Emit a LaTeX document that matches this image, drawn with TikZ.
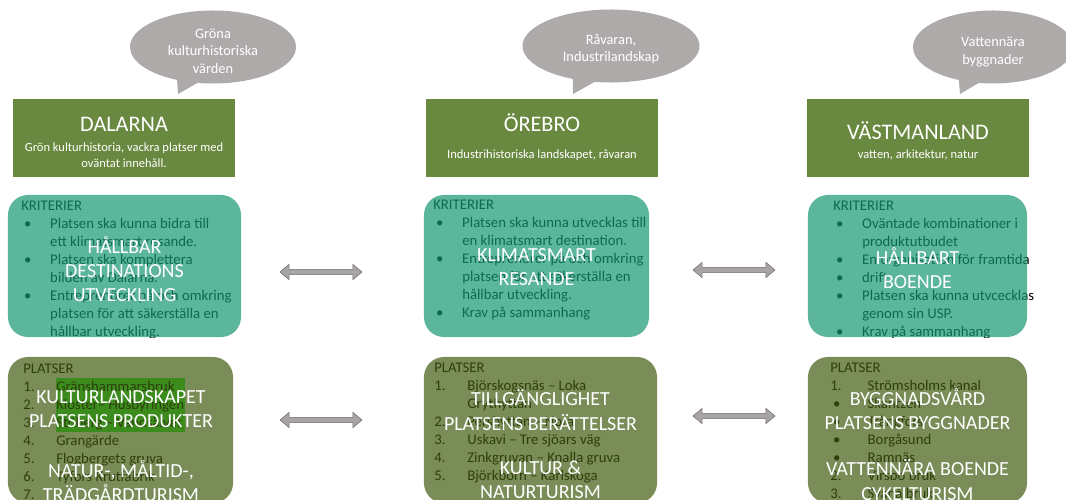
\documentclass[tikz,border=0pt]{standalone}
\usepackage{fontspec}
\setmainfont{Carlito}
\usetikzlibrary{shapes.callouts,shapes.arrows}

\definecolor{rubrikgron}{RGB}{106,137,64}
\definecolor{bubbelgra}{RGB}{174,170,170}
\definecolor{kritgron}{RGB}{21,151,114}
\definecolor{platsgron}{RGB}{65,91,16}
\definecolor{markering}{RGB}{50,255,60}
\definecolor{pilgra}{RGB}{168,164,164}
\definecolor{pilkant}{RGB}{115,110,110}

\newcommand\fnttitle{\fontsize{15.8}{19}\selectfont}
\newcommand\fntsub{\fontsize{8.9}{11.4}\selectfont}
\newcommand\fntbubble{\fontsize{10.2}{12.45}\selectfont}
\newcommand\fntlist{\fontsize{10.5}{12.8}\selectfont}
\newcommand\fntbig{\fontsize{14.2}{17.2}\selectfont}
\newcommand\lbul{\hspace*{2.1pt}\makebox[18.5pt][l]{•}}
\newcommand\lcont{\hspace*{20.6pt}}
\newcommand\lnum[1]{\makebox[23.5pt][l]{#1}}

\tikzset{
  rubrik/.style={fill=rubrikgron, minimum height=1.95cm, inner sep=0pt},
  rubriktext/.style={text=white, align=center, inner sep=0pt},
  bubbla/.style={ellipse callout, fill=bubbelgra, minimum height=1.825cm, inner sep=0pt},
  bubbeltext/.style={text=white, font=\fntbubble, align=center, inner sep=0pt},
  lista/.style={anchor=north west, align=left, inner sep=0pt, font=\fntlist},
  kritruta/.style={fill=kritgron, fill opacity=0.7, rounded corners=0.5cm, minimum height=3.55cm},
  platsruta/.style={fill=platsgron, fill opacity=0.7, rounded corners=0.5cm, minimum height=3.65cm},
  vittext/.style={text=white, font=\fntbig, align=center, inner sep=0pt},
  dubbelpil/.style={double arrow, fill=pilgra, draw=pilkant, line width=0.4pt,
    minimum height=2.05cm, minimum width=0.375cm, double arrow head extend=0.125cm,
    inner sep=0.06cm, double arrow tip angle=80}
}

\begin{document}
\begin{tikzpicture}[x=0.025cm, y=-0.025cm]
    \useasboundingbox (0,0) rectangle (1066,500);
    \clip (0,0) rectangle (1066,500);

    % pratbubblor
    \node[bubbla, minimum width=4.15cm, callout absolute pointer={(178,94)}] (B1) at (213,47) {};
    \node[bubbla, minimum width=4.425cm, callout absolute pointer={(573,94)}] (B2) at (611,46) {};
    \node[bubbla, minimum width=4.0cm, callout absolute pointer={(960,94)}] (B3) at (993,47) {};
    \node[bubbeltext] (B1t) at (213,51) {Gröna\\kulturhistoriska\\värden};
    \node[bubbeltext] (B2t) at (611,49) {Råvaran,\\Industrilandskap};
    \node[bubbeltext] (B3t) at (993,52) {Vattennära\\byggnader};

    % rubriker
    \node[rubrik, minimum width=5.55cm] (D) at (124,138) {};
    \node[rubrik, minimum width=5.8cm] (O) at (542,138) {};
    \node[rubrik, minimum width=5.55cm] (V) at (918,138) {};
    \node[rubriktext, font=\fnttitle] (Dt) at (124,124) {DALARNA};
    \node[rubriktext, font=\fntsub] (Ds) at (124,155) {Grön kulturhistoria, vackra platser med\\oväntat innehåll.};
    \node[rubriktext, font=\fnttitle] (Ot) at (542,123) {ÖREBRO};
    \node[rubriktext, font=\fntsub] (Os) at (542,155) {Industrihistoriska landskapet, råvaran};
    \node[rubriktext, font=\fnttitle] (Vt) at (918,131) {VÄSTMANLAND};
    \node[rubriktext, font=\fntsub] (Vs) at (918,155) {vatten, arkitektur, natur};

    % kriterier
    \begin{scope}
        \clip (8,195) rectangle (241,337);
        \node[lista] (DK) at (21,201) {KRITERIER\\
            \lbul Platsen ska kunna bidra till\\
            \lcont ett klimatsmart resande.\\
            \lbul Platsen ska komplettera\\
            \lcont bilden av Dalarna.\\
            \lbul Entreprenörer på och omkring\\
            \lcont platsen för att säkerställa en\\
            \lcont hållbar utveckling.};
    \end{scope}
    \begin{scope}
        \clip (424,195) rectangle (649,337);
        \node[lista] (OK) at (433,200) {KRITERIER\\
            \lbul Platsen ska kunna utvecklas till\\
            \lcont en klimatsmart destination.\\
            \lbul Entreprenörer på och omkring\\
            \lcont platsen för att säkerställa en\\
            \lcont hållbar utveckling.\\
            \lbul Krav på sammanhang};
    \end{scope}
    \begin{scope}
        \clip (808,195) rectangle (1066,337);
        \node[lista] (VK) at (833,201) {KRITERIER\\
            \lbul Oväntade kombinationer i\\
            \lcont produktutbudet\\
            \lbul En organisation för framtida\\
            \lbul drift\\
            \lbul Platsen ska kunna utvcecklas\\
            \lcont genom sin USP.\\
            \lbul Krav på sammanhang};
    \end{scope}

    % platser
    \fill[markering] (56,378) rectangle (185,432);
    \begin{scope}
        \clip (8,357) rectangle (233,500);
        \node[lista] (DP) at (23,364) {PLATSER\\
            \lnum{1.}Gränshammarsbruk\\
            \lnum{2.}Kloster– Husbyringen\\
            \lnum{3.}Stöberg – Vandsälvet\\
            \lnum{4.}Grangärde\\
            \lnum{5.}Flogbergets gruva\\
            \lnum{6.}Tyfors Krutfabrik\\
            \lnum{7.}};
    \end{scope}
    \begin{scope}
        \clip (424,357) rectangle (657,500);
        \node[lista] (OP) at (434,363) {PLATSER\\
            \lnum{1.}Björskogsnäs – Loka\\
            \lnum{}Grythyttan\\
            \lnum{2.}Pershyttan – Nora\\
            \lnum{3.}Uskavi – Tre sjöars väg\\
            \lnum{4.}Zinkgruvan – Knalla gruva\\
            \lnum{5.}Björkborn – Karlskoga};
    \end{scope}
    \begin{scope}
        \clip (808,357) rectangle (1027,500);
        \node[lista] (VP) at (830,363) {PLATSER\\
            \lnum{1.}\hspace*{3pt}Strömsholms kanal\\
            \lbul\hspace*{6pt}Skantzen\\
            \lbul\hspace*{6pt}Trångfors\\
            \lbul\hspace*{6pt}Borgåsund\\
            \lbul\hspace*{6pt}Ramnäs\\
            \lnum{2.}\hspace*{3pt}Virsbo bruk\\
            \lnum{3.}\hspace*{3pt}Svanå bruk};
    \end{scope}

    % rutor
    \node[kritruta, minimum width=5.825cm] (DR) at (124.5,266) {};
    \node[kritruta, minimum width=5.625cm] (OR) at (536.5,266) {};
    \node[kritruta, minimum width=5.475cm] (VR) at (917.5,266) {};
    \node[platsruta, minimum width=5.625cm] (DS) at (120.5,430) {};
    \node[platsruta, minimum width=5.825cm] (OS) at (540.5,430) {};
    \node[platsruta, minimum width=5.475cm] (VS) at (917.5,430) {};

    % vit text
    \node[vittext] (DT) at (124.5,269) {HÅLLBAR\\DESTINATIONS\\UTVECKLING};
    \node[vittext] (OT) at (536.5,267) {KLIMATSMART\\RESANDE};
    \node[vittext] (VT) at (917.5,268) {HÅLLBART\\BOENDE};
    \node[vittext] (DU1) at (121,409) {KULTURLANDSKAPET\\PLATSENS PRODUKTER};
    \node[vittext] (DU2) at (121,481) {NATUR-, MÅLTID-,\\TRÄDGÅRDTURISM};
    \node[vittext] (OU1) at (540.5,410) {TILLGÄNGLIGHET\\PLATSENS BERÄTTELSER};
    \node[vittext] (OU2) at (540.5,480) {KULTUR \&\\NATURTURISM};
    \node[vittext] (VU1) at (917.5,409) {BYGGNADSVÅRD\\PLATSENS BYGGNADER};
    \node[vittext] (VU2) at (917.5,480) {VATTENNÄRA BOENDE\\CYKELTURISM};

    % pilar
    \node[dubbelpil] (P1) at (321,272) {};
    \node[dubbelpil] (P2) at (734,270) {};
    \node[dubbelpil] (P3) at (321,420) {};
    \node[dubbelpil] (P4) at (734,416) {};
\end{tikzpicture}
\end{document}
